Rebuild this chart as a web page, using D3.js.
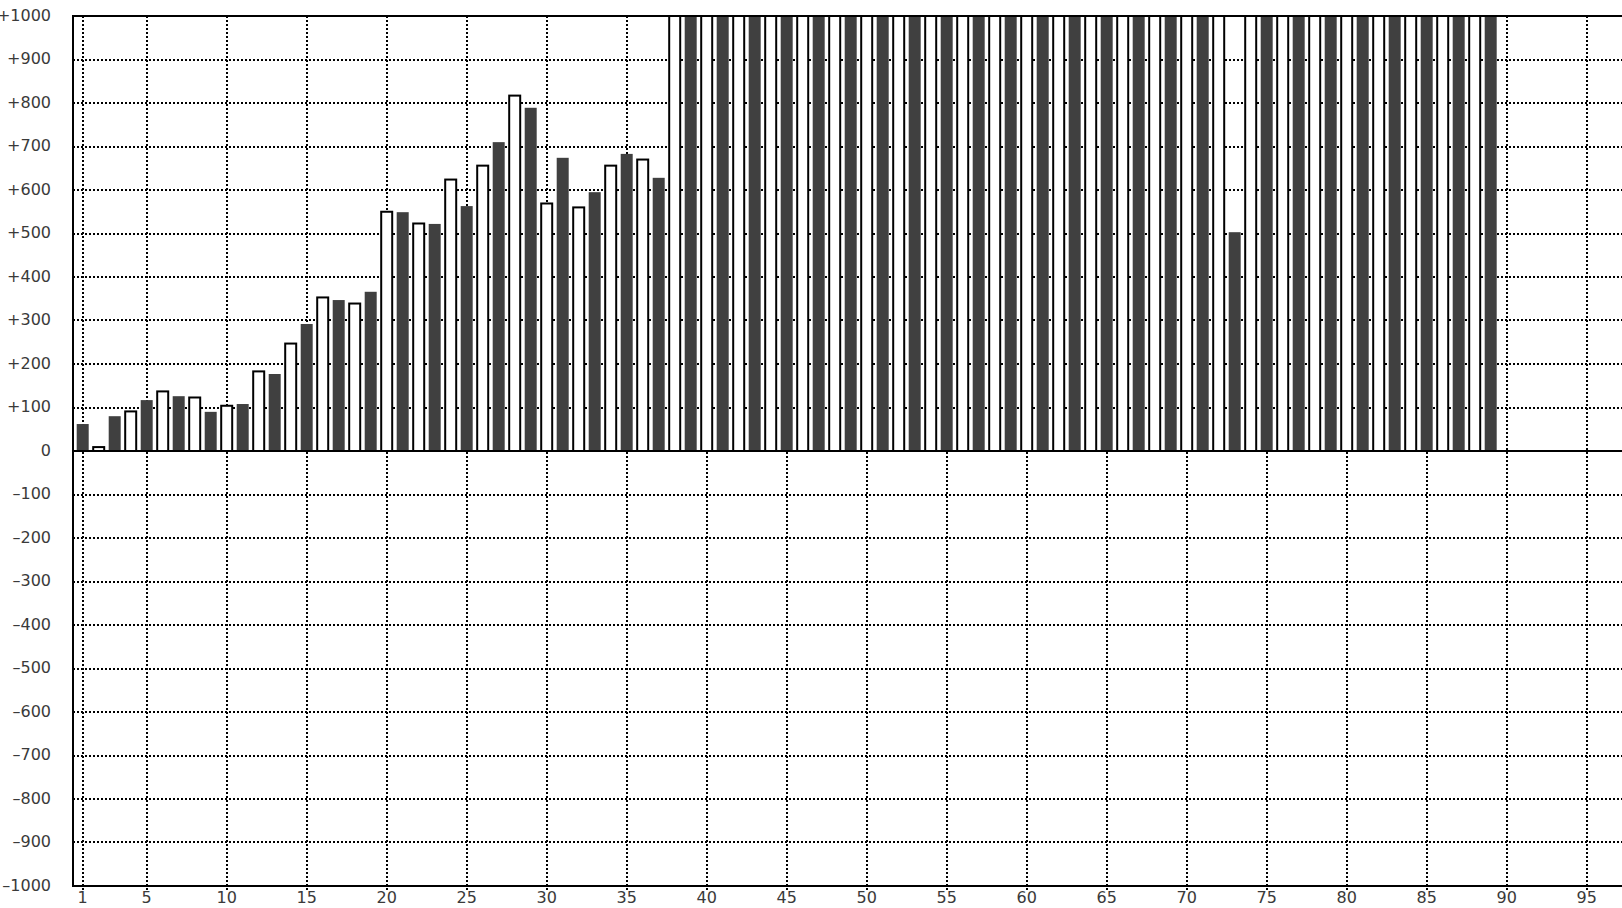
<!DOCTYPE html>
<html>
<head>
<meta charset="utf-8">
<script src="https://cdn.jsdelivr.net/npm/d3@7"></script>
<style>
  html, body { margin: 0; padding: 0; background: #fff; }
  svg { display: block; }
  text { font-family: "DejaVu Sans", sans-serif; }
</style>
</head>
<body>
<script>
// ---------- data ----------
// dark series: odd positions 1,3,...,89
const darkPositions = [1,3,5,7,9,11,13,15,17,19,21,23,25,27,29,31,33,35,37,39,41,43,45,47,49,51,53,55,57,59,61,63,65,67,69,71,73,75,77,79,81,83,85,87,89];
const darkValues = [62,80,117,126,90,108,177,292,347,366,549,522,563,710,789,674,595,683,628,
  1000,1000,1000,1000,1000,1000,1000,1000,1000,1000,1000,1000,1000,1000,1000,1000,1000,
  503,
  1000,1000,1000,1000,1000,1000,1000,1000];
// light series: even positions 2,4,...,88
const lightPositions = [2,4,6,8,10,12,14,16,18,20,22,24,26,28,30,32,34,36,38,40,42,44,46,48,50,52,54,56,58,60,62,64,66,68,70,72,74,76,78,80,82,84,86,88];
const lightValues = [9,91,137,123,104,183,247,353,339,550,523,624,656,817,569,560,656,670,
  1000,1000,1000,1000,1000,1000,1000,1000,1000,1000,1000,1000,1000,1000,1000,1000,1000,1000,1000,1000,1000,1000,1000,1000,1000,1000];
const xTickValues = [1,5,10,15,20,25,30,35,40,45,50,55,60,65,70,75,80,85,90,95];
const yTickValues = [-1000,-900,-800,-700,-600,-500,-400,-300,-200,-100,0,100,200,300,400,500,600,700,800,900,1000];

// ---------- layout ----------
const W = 1622, H = 908;
const plotLeft = 73, plotTop = 16, plotBottom = 886, plotRight = W + 2;

const x = d3.scaleLinear().domain([1, 95]).range([82.7, 1586.7]);
const y = d3.scaleLinear().domain([-1000, 1000]).range([plotBottom, plotTop]);

const svg = d3.select("body").append("svg").attr("width", W).attr("height", H);
svg.append("rect").attr("width", W).attr("height", H).attr("fill", "#fff");

svg.append("defs").append("clipPath").attr("id", "plotClip")
  .append("rect").attr("x", plotLeft).attr("y", plotTop)
  .attr("width", plotRight - plotLeft).attr("height", plotBottom - plotTop);

// grid
const grid = svg.append("g").attr("stroke", "#000").attr("stroke-width", 2)
  .attr("stroke-dasharray", "2,2");
grid.selectAll("line.h").data(yTickValues.filter(v => v !== 0 && Math.abs(v) !== 1000)).join("line")
  .attr("class", "h")
  .attr("x1", plotLeft).attr("x2", plotRight)
  .attr("y1", d => Math.round(y(d))).attr("y2", d => Math.round(y(d)));
grid.selectAll("line.v").data(xTickValues).join("line")
  .attr("class", "v")
  .attr("x1", d => Math.round(x(d))).attr("x2", d => Math.round(x(d)))
  .attr("y1", plotTop).attr("y2", plotBottom + 6);

// bars
const bars = svg.append("g").attr("clip-path", "url(#plotClip)");
const darkData = darkPositions.map((p, i) => ({ p, v: darkValues[i] }));
const lightData = lightPositions.map((p, i) => ({ p, v: lightValues[i] }));

bars.selectAll("rect.dark").data(darkData).join("rect")
  .attr("class", "dark")
  .attr("x", d => x(d.p) - 6)
  .attr("width", 12)
  .attr("y", d => y(Math.max(0, d.v)))
  .attr("height", d => Math.abs(y(d.v) - y(0)))
  .attr("fill", "#404040");

bars.selectAll("rect.light").data(lightData).join("rect")
  .attr("class", "light")
  .attr("x", d => x(d.p) - 5.5)
  .attr("width", 11)
  .attr("y", d => y(Math.max(0, d.v)))
  .attr("height", d => Math.abs(y(d.v) - y(0)))
  .attr("fill", "#fff")
  .attr("stroke", "#000")
  .attr("stroke-width", 2);

// frame lines
const frame = svg.append("g").attr("stroke", "#000").attr("stroke-width", 2);
frame.append("line").attr("x1", plotLeft).attr("x2", plotLeft).attr("y1", plotTop - 1).attr("y2", plotBottom + 1);
frame.append("line").attr("x1", plotLeft).attr("x2", plotRight).attr("y1", plotTop).attr("y2", plotTop);
frame.append("line").attr("x1", plotLeft).attr("x2", plotRight).attr("y1", plotBottom).attr("y2", plotBottom);
frame.append("line").attr("x1", plotLeft).attr("x2", plotRight).attr("y1", y(0)).attr("y2", y(0));

// y labels
const fmtY = v => v === 0 ? "0" : (v > 0 ? "+" + v : "\u2013" + Math.abs(v));
svg.append("g").selectAll("text").data(yTickValues).join("text")
  .attr("x", 51)
  .attr("y", d => y(d) - 1)
  .attr("dy", "0.36em")
  .attr("text-anchor", "end")
  .attr("font-size", 16)
  .attr("fill", "#3a3a3a")
  .text(fmtY);

// x labels
svg.append("g").selectAll("text").data(xTickValues).join("text")
  .attr("x", d => x(d))
  .attr("y", 903)
  .attr("text-anchor", "middle")
  .attr("font-size", 16)
  .attr("fill", "#3a3a3a")
  .text(d => d);
</script>
</body>
</html>
